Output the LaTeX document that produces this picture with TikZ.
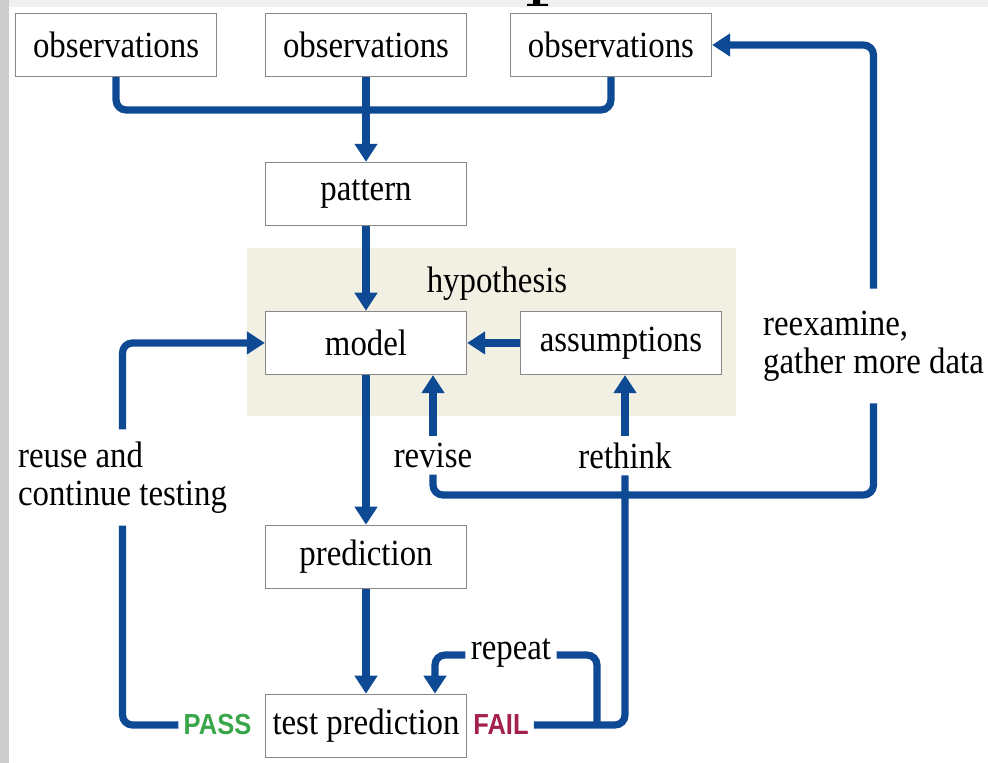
\documentclass[tikz,border=0pt]{standalone}
\usepackage{fontspec}
\setmainfont{Liberation Serif}[FakeStretch=0.89]
\newfontfamily\tagfont{Liberation Sans}[FakeStretch=0.88]
\usetikzlibrary{arrows.meta,positioning}
\definecolor{flowblue}{RGB}{14,74,148}
\definecolor{boxgray}{RGB}{135,135,135}
\definecolor{hypofill}{RGB}{242,239,227}
\definecolor{passgreen}{RGB}{58,166,74}
\definecolor{failred}{RGB}{163,33,75}

\begin{document}
\begin{tikzpicture}[x=0.02cm,y=-0.02cm,node distance=3cm,on grid,
    every node/.style={font=\fontsize{21}{21.5}\selectfont},
    box/.style={draw=boxgray,line width=0.8pt,fill=white,minimum width=4.02cm,minimum height=1.26cm,inner xsep=2pt},
    lbl/.style={inner xsep=2pt,inner ysep=0.13cm},
    flow/.style={draw=flowblue,line width=4.1pt,rounded corners=0.2cm},
    tip/.style={-{Triangle[width=0.44cm,length=0.36cm]}},
    tag/.style={font=\tagfont\bfseries\fontsize{16.5}{17}\selectfont,inner sep=0.1cm}]
  \useasboundingbox (0,0) rectangle (988,763);
  % frame of the scan
  \fill[black!6] (0,0) rectangle (988,7);
  \fill[black!20] (0,0) rectangle (9,763);
  \fill[black] (533,0) rectangle (540,4) (527,4) rectangle (548,6);
  \fill[hypofill] (247,248) rectangle (736,416);
  \node (hypo) at (497,284) {hypothesis};

  \node[box] (obs2) at (366,45) {observations};
  \node[box] (obs1) [left=5cm of obs2] {observations};
  \node[box] (obs3) [right=4.9cm of obs2] {observations};
  \coordinate[below=1.3cm of obs2] (obsjoin);
  \node[box] (pattern) [below=2.98cm of obs2] {pattern};
  \node[box] (model) [below=2.98cm of pattern] {model};
  \node[box] (assump) [right=5.1cm of model] {assumptions};
  \node[box] (predict) [below=4.28cm of model] {prediction};
  \node[box] (test) [below=3.38cm of predict] {test prediction};

  \node[tag,text=passgreen] (pass) at (217.5,725) {PASS};
  \node[tag,text=failred] (fail) at (501,725) {FAIL};
  \node[lbl,align=left,inner ysep=0.24cm] (reuse) at (122.5,477.5) {reuse and\\continue testing};
  \node[lbl] (revise) at (433,455.5) {revise};
  \node[lbl] (rethink) at (625,455.5) {rethink};
  \node[lbl,align=left,inner ysep=0.44cm] (reexam) at (873.5,346) {reexamine,\\gather more data};
  \node[inner sep=3pt,anchor=mid] (repeat) at (511,655) {repeat};
  \coordinate (junc) at (625,495);
  \coordinate (rptfoot) at (597,727);

  \draw[flow] (obs1.south) |- (obsjoin) -| (obs3.south);
  \draw[flow,tip] (obs2.south) -- (pattern.north);
  \draw[flow,tip] (pattern) -- (model);
  \draw[flow,tip] (assump) -- (model);
  \draw[flow,tip] (model) -- (predict);
  \draw[flow,tip] (predict) -- (test);
  % pass branch
  \draw[flow] (pass.west) -| (reuse.south);
  \draw[flow,tip] (reuse.north) |- (model.west);
  % fail branches
  \draw[flow] (fail.east) -| (rethink.south);
  \draw[flow] (revise.south) |- (junc) -| (reexam.south);
  \draw[flow,tip] (revise.north) -- (revise.north |- model.south);
  \draw[flow,tip] (rethink.north) -- (rethink.north |- assump.south);
  \draw[flow,tip] (reexam.north) |- (obs3.east);
  \draw[flow] (rptfoot) |- (repeat.mid east);
  \draw[flow,tip] (repeat.mid west) -| ([xshift=1.38cm]test.north);
\end{tikzpicture}
\end{document}
